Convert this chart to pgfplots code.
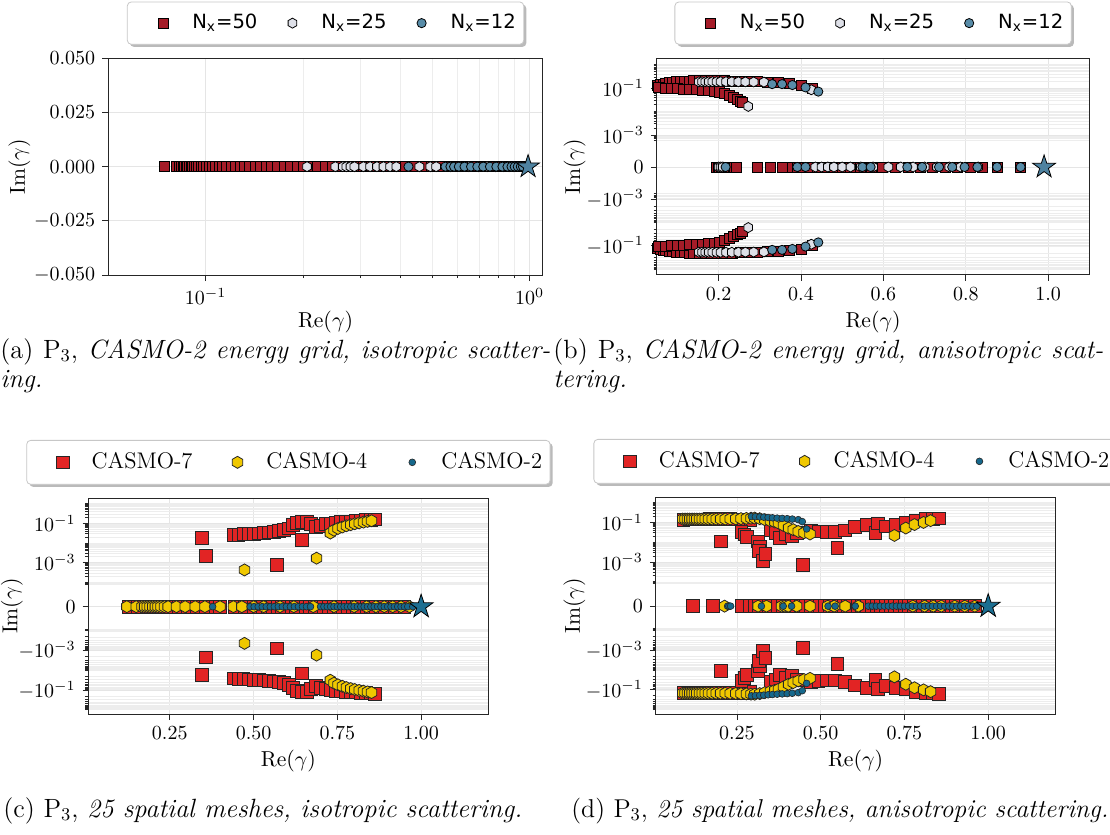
\documentclass[border=0pt]{standalone}
\usepackage{pgfplots}
\pgfplotsset{compat=1.18}
\usepackage{pgfplotstable}
\usepackage{fontspec}
\usetikzlibrary{shadows}
\newfontfamily\legsans{DejaVu Sans}

\definecolor{aRed}{RGB}{165,28,40}
\definecolor{aWhite}{RGB}{222,224,232}
\definecolor{aBlue}{RGB}{88,140,168}
\definecolor{aStar}{RGB}{78,130,160}
\definecolor{cRed}{RGB}{226,36,36}
\definecolor{cYel}{RGB}{240,200,0}
\definecolor{cBlue}{RGB}{22,104,140}
\definecolor{cStar}{RGB}{28,110,145}

\pgfdeclareplotmark{hexa}{%
 \pgfpathmoveto{\pgfpointpolar{90}{\pgfplotmarksize}}%
 \pgfpathlineto{\pgfpointpolar{150}{\pgfplotmarksize}}%
 \pgfpathlineto{\pgfpointpolar{210}{\pgfplotmarksize}}%
 \pgfpathlineto{\pgfpointpolar{270}{\pgfplotmarksize}}%
 \pgfpathlineto{\pgfpointpolar{330}{\pgfplotmarksize}}%
 \pgfpathlineto{\pgfpointpolar{30}{\pgfplotmarksize}}%
 \pgfpathclose\pgfusepathqfillstroke}
\pgfdeclareplotmark{fstar}{%
 \pgfpathmoveto{\pgfpointpolar{90}{\pgfplotmarksize}}%
 \pgfpathlineto{\pgfpointpolar{126}{0.382\pgfplotmarksize}}%
 \pgfpathlineto{\pgfpointpolar{162}{\pgfplotmarksize}}%
 \pgfpathlineto{\pgfpointpolar{198}{0.382\pgfplotmarksize}}%
 \pgfpathlineto{\pgfpointpolar{234}{\pgfplotmarksize}}%
 \pgfpathlineto{\pgfpointpolar{270}{0.382\pgfplotmarksize}}%
 \pgfpathlineto{\pgfpointpolar{306}{\pgfplotmarksize}}%
 \pgfpathlineto{\pgfpointpolar{342}{0.382\pgfplotmarksize}}%
 \pgfpathlineto{\pgfpointpolar{18}{\pgfplotmarksize}}%
 \pgfpathlineto{\pgfpointpolar{54}{0.382\pgfplotmarksize}}%
 \pgfpathclose\pgfusepathqfillstroke}

% symlog transform of the column y: #1 = offset D (decades from 0 to 1e-3), #2 = sign factor
\newcommand\SL[2]{((\thisrow{y}>0)-(\thisrow{y}<0))*#2*(#1+3+log10(abs(\thisrow{y})+1e-30))}

% minor tick positions of the symlog axes
\newcommand\buildminor[2]{%
  \gdef\tmplist{0}%
  \foreach \k in {-5,...,0}{%
    \foreach \m in {1,...,9}{%
      \pgfmathsetmacro\tt{#1+3+\k+log10(\m)}%
      \pgfmathtruncatemacro\ok{\tt>1.1}%
      \ifnum\ok=1 \xdef\tmplist{\tmplist,\tt,-\tt}\fi
    }}%
  \global\expandafter\let\csname #2\endcsname\tmplist}
\buildminor{1.36}{minorB}
\buildminor{2.23}{minorC}

% ---------------- data (a): all on the real axis ----------------
\pgfplotstableread{
x y
0.0746 0
0.0812 0
0.0828 0
0.0840 0
0.0851 0
0.0861 0
0.0871 0
0.0881 0
0.0891 0
0.0902 0
0.0913 0
0.0925 0
0.0938 0
0.0952 0
0.0968 0
0.0985 0
0.1004 0
0.1025 0
0.1048 0
0.1073 0
0.1100 0
0.1130 0
0.1162 0
0.1197 0
0.1235 0
0.1276 0
0.1320 0
0.1368 0
0.1420 0
0.1476 0
0.1536 0
0.1601 0
0.1671 0
0.1746 0
0.1827 0
0.1914 0
0.2008 0
0.2109 0
0.2218 0
0.2335 0
0.2461 0
0.2596 0
0.2742 0
0.2899 0
0.3068 0
0.3250 0
0.3446 0
0.3657 0
0.3884 0
0.4128 0
0.4391 0
0.4674 0
0.4978 0
0.5305 0
0.5657 0
0.6035 0
0.6441 0
0.6877 0
0.7345 0
0.7847 0
0.8385 0
0.8962 0
0.9400 0
}\aRedT
\pgfplotstableread{
x y
0.2056 0
0.2515 0
0.2650 0
0.2720 0
0.2800 0
0.2880 0
0.3070 0
0.3220 0
0.3380 0
0.3540 0
0.3710 0
0.3880 0
0.4570 0
0.4940 0
0.5150 0
0.5700 0
0.6100 0
0.6500 0
0.6950 0
0.7400 0
0.7850 0
0.8300 0
0.8650 0
0.8950 0
}\aWhiteT
\pgfplotstableread{
x y
0.4230 0
0.5500 0
0.5700 0
0.5850 0
0.6050 0
0.6300 0
0.6600 0
0.6900 0
0.7200 0
0.7550 0
0.7900 0
0.8250 0
0.8550 0
0.8800 0
0.9000 0
0.9200 0
0.9400 0
0.9550 0
}\aBlueT

% ---------------- data (b) ----------------
\pgfplotstableread{
x y
0.195 0
0.199 0
0.203 0
0.207 0
0.211 0
0.215 0
0.219 0
0.223 0
0.227 0
0.231 0
0.235 0
0.239 0
0.243 0
0.294 0
0.326 0
0.355 0
0.379 0
0.392 0
0.405 0
0.420 0
0.440 0
0.460 0
0.480 0
0.500 0
0.520 0
0.545 0
0.570 0
0.597 0
0.630 0
0.660 0
0.690 0
0.720 0
0.750 0
0.780 0
0.810 0
0.840 0
0.876 0
0.933 0
}\bRedR
\pgfplotstableread{
x y
0.052 0.125
0.058 0.138
0.065 0.150
0.072 0.160
0.080 0.170
0.088 0.178
0.097 0.185
0.107 0.191
0.117 0.196
0.128 0.200
0.140 0.203
0.153 0.205
0.167 0.206
0.182 0.206
0.198 0.205
0.215 0.203
0.233 0.200
0.252 0.197
0.272 0.193
0.294 0.188
0.318 0.180
0.345 0.170
0.372 0.158
0.400 0.135
0.428 0.095
0.055 0.105
0.070 0.101
0.085 0.098
0.100 0.095
0.115 0.092
0.130 0.089
0.145 0.086
0.160 0.083
0.175 0.079
0.190 0.075
0.203 0.069
0.215 0.060
0.226 0.050
0.236 0.040
0.245 0.033
0.252 0.028
0.258 0.024
}\bRedU
\pgfplotstableread{
x y
0.200 0
0.205 0
0.210 0
0.435 0
0.450 0
0.465 0
0.480 0
0.500 0
0.520 0
0.545 0
0.575 0
0.612 0
0.642 0
0.672 0
0.700 0
0.730 0
0.760 0
0.787 0
0.830 0
}\bWhiteR
\pgfplotstableread{
x y
0.152 0.185
0.160 0.186
0.168 0.187
0.176 0.187
0.185 0.188
0.195 0.188
0.205 0.188
0.218 0.188
0.232 0.187
0.248 0.186
0.265 0.185
0.285 0.183
0.310 0.180
0.425 0.085
0.272 0.0166
}\bWhiteU
\pgfplotstableread{
x y
0.217 0
0.391 0
0.411 0
0.549 0
0.569 0
0.658 0
0.694 0
0.735 0
0.767 0
0.797 0
0.828 0
0.876 0
0.933 0
}\bBlueR
\pgfplotstableread{
x y
0.330 0.148
0.354 0.148
0.379 0.135
0.411 0.107
0.442 0.071
}\bBlueU

% ---------------- data (c) ----------------
\pgfplotstableread{
x y
0.000 0
0.127 0
0.141 0
0.154 0
0.168 0
0.182 0
0.195 0
0.209 0
0.223 0
0.236 0
0.250 0
0.264 0
0.277 0
0.291 0
0.305 0
0.318 0
0.332 0
0.346 0
0.359 0
0.373 0
0.387 0
0.400 0
0.445 0
0.459 0
0.473 0
0.487 0
0.501 0
0.515 0
0.529 0
0.543 0
0.557 0
0.571 0
0.585 0
0.599 0
0.613 0
0.627 0
0.641 0
0.655 0
0.669 0
0.683 0
0.697 0
0.711 0
0.725 0
0.739 0
0.753 0
0.767 0
0.781 0
0.795 0
0.809 0
0.823 0
0.837 0
0.851 0
0.865 0
0.879 0
0.893 0
0.907 0
0.921 0
0.935 0
0.950 0
}\cRedR
\pgfplotstableread{
x y
0.346 0.0174
0.357 0.0022
0.569 0.00078
0.644 0.0145
0.441 0.026
0.455 0.027
0.470 0.028
0.485 0.029
0.500 0.030
0.515 0.031
0.530 0.033
0.545 0.035
0.560 0.037
0.575 0.040
0.590 0.045
0.605 0.055
0.618 0.080
0.630 0.110
0.645 0.120
0.660 0.120
0.672 0.090
0.687 0.063
0.700 0.075
0.715 0.090
0.730 0.100
0.745 0.110
0.760 0.115
0.775 0.120
0.790 0.125
0.805 0.130
0.820 0.140
0.835 0.145
0.850 0.150
0.862 0.160
}\cRedU
\pgfplotstableread{
x y
0.122 0
0.150 0
0.167 0
0.175 0
0.183 0
0.191 0
0.199 0
0.207 0
0.215 0
0.224 0
0.234 0
0.245 0
0.270 0
0.296 0
0.326 0
0.355 0
0.400 0
0.440 0
0.465 0
0.500 0
0.530 0
0.579 0
0.620 0
0.678 0
0.740 0
0.800 0
0.837 0
0.865 0
0.890 0
0.915 0
0.940 0
0.965 0
}\cYelR
\pgfplotstableread{
x y
0.473 0.00043
0.688 0.0017
0.729 0.032
0.740 0.045
0.752 0.055
0.765 0.065
0.777 0.075
0.790 0.085
0.802 0.095
0.815 0.105
0.828 0.115
0.840 0.125
0.852 0.135
}\cYelU
\pgfplotstableread{
x y
0.378 0
0.490 0
0.502 0
0.514 0
0.526 0
0.538 0
0.550 0
0.562 0
0.574 0
0.586 0
0.598 0
0.610 0
0.622 0
0.634 0
0.646 0
0.658 0
0.670 0
0.700 0
0.710 0
0.720 0
0.730 0
0.740 0
0.750 0
0.760 0
0.770 0
0.780 0
0.790 0
0.800 0
0.810 0
0.820 0
0.830 0
0.840 0
0.850 0
0.860 0
0.870 0
0.880 0
0.890 0
0.900 0
0.910 0
0.920 0
0.930 0
0.940 0
0.950 0
0.960 0
0.975 0
}\cBluR

% ---------------- data (d) ----------------
\pgfplotstableread{
x y
0.000 0
0.118 0
0.178 0
0.263 0
0.288 0
0.302 0
0.316 0
0.330 0
0.344 0
0.358 0
0.372 0
0.386 0
0.400 0
0.414 0
0.428 0
0.442 0
0.456 0
0.470 0
0.484 0
0.498 0
0.512 0
0.526 0
0.540 0
0.554 0
0.568 0
0.582 0
0.596 0
0.610 0
0.624 0
0.638 0
0.652 0
0.666 0
0.680 0
0.694 0
0.708 0
0.722 0
0.736 0
0.750 0
0.764 0
0.778 0
0.792 0
0.806 0
0.820 0
0.834 0
0.848 0
0.862 0
0.876 0
0.890 0
0.904 0
0.918 0
0.932 0
0.946 0
0.960 0
}\dRedR
\pgfplotstableread{
x y
0.090 0.140
0.110 0.142
0.130 0.143
0.150 0.144
0.170 0.145
0.190 0.145
0.210 0.145
0.230 0.145
0.250 0.144
0.270 0.140
0.290 0.130
0.203 0.011
0.263 0.034
0.272 0.025
0.280 0.018
0.313 0.011
0.318 0.0060
0.315 0.0035
0.328 0.0011
0.335 0.0025
0.350 0.040
0.365 0.030
0.378 0.017
0.395 0.025
0.413 0.020
0.430 0.030
0.448 0.00074
0.470 0.040
0.493 0.035
0.518 0.033
0.543 0.033
0.550 0.0051
0.573 0.040
0.603 0.059
0.638 0.078
0.663 0.030
0.670 0.090
0.693 0.063
0.723 0.078
0.753 0.093
0.783 0.126
0.813 0.148
0.835 0.150
0.854 0.160
}\dRedU
\pgfplotstableread{
x y
0.213 0
0.313 0
0.338 0
0.383 0
0.393 0
0.403 0
0.428 0
0.468 0
0.521 0
0.540 0
0.573 0
0.612 0
0.775 0
0.810 0
0.836 0
0.860 0
0.900 0
0.930 0
0.960 0
}\dYelR
\pgfplotstableread{
x y
0.088 0.148
0.095 0.148
0.102 0.148
0.109 0.148
0.116 0.148
0.123 0.148
0.130 0.148
0.138 0.148
0.146 0.148
0.155 0.148
0.165 0.148
0.176 0.148
0.188 0.148
0.201 0.148
0.215 0.148
0.230 0.150
0.246 0.152
0.262 0.156
0.278 0.160
0.292 0.164
0.303 0.166
0.318 0.155
0.333 0.138
0.350 0.118
0.363 0.105
0.374 0.093
0.389 0.070
0.404 0.052
0.418 0.043
0.433 0.035
0.450 0.030
0.468 0.026
0.720 0.022
0.754 0.052
0.780 0.078
0.807 0.100
0.828 0.123
}\dYelU
\pgfplotstableread{
x y
0.222 0
0.226 0
0.231 0
0.323 0
0.388 0
0.413 0
0.522 0
0.543 0
0.603 0
0.642 0
0.654 0
0.666 0
0.678 0
0.690 0
0.702 0
0.714 0
0.726 0
0.738 0
0.750 0
0.762 0
0.774 0
0.786 0
0.798 0
0.810 0
0.822 0
0.834 0
0.846 0
0.858 0
0.870 0
0.882 0
0.894 0
0.906 0
0.918 0
0.930 0
0.942 0
0.954 0
0.966 0
}\dBluR
\pgfplotstableread{
x y
0.293 0.200
0.305 0.195
0.318 0.190
0.330 0.185
0.343 0.178
0.356 0.172
0.370 0.165
0.385 0.160
0.400 0.155
0.415 0.148
0.433 0.138
0.445 0.110
0.458 0.047
}\dBluU

\pgfplotsset{
  base/.style={scale only axis, anchor=north west,
    axis line style={line width=0.5pt, black!85},
    tick align=outside, tick pos=left,
    tick style={black!85, line width=0.4pt},
    major tick length=3pt, minor tick length=1.6pt,
    tick label style={font=\fontsize{10.3}{12}\selectfont},
    label style={font=\fontsize{10.8}{13}\selectfont},
    xlabel={Re$(\gamma)$}, ylabel={Im$(\gamma)$},
    xlabel style={at={(axis description cs:0.5,0)}, anchor=center, yshift=-23.4pt},
    major grid style={black!10, line width=0.4pt},
    minor grid style={black!7, line width=0.3pt},
    legend columns=3, legend cell align=left,
    legend image code/.code={%
      \pgfpathrectangle{\pgfqpoint{-16pt}{-1pt}}{\pgfqpoint{28.5pt}{2pt}}\pgfusepath{}%
      \draw[##1] plot coordinates {(0pt,0pt)};},
    legend style={at={(0.5,1)}, anchor=south, yshift=6.8pt, draw=black!22,
      rounded corners=2pt, fill=white, inner ysep=4.2pt, inner xsep=2pt,
      drop shadow={shadow xshift=1.3pt, shadow yshift=-1.3pt, fill=black!45, opacity=0.6}},
  },
  symlogB/.style={ymin=-4.6, ymax=4.63,
    ytick={-3.36,-1.36,0,1.36,3.36},
    yticklabels={$-10^{-1}$,$-10^{-3}$,$0$,$10^{-3}$,$10^{-1}$},
    minor ytick/.expanded={\minorB}, xmajorgrids, ymajorgrids, yminorgrids},
  symlogC/.style={ymin=-5.45, ymax=5.5,
    ytick={-4.23,-2.23,0,2.23,4.23},
    yticklabels={$-10^{-1}$,$-10^{-3}$,$0$,$10^{-3}$,$10^{-1}$},
    minor ytick/.expanded={\minorC}, xmajorgrids, ymajorgrids, yminorgrids},
  mA/.style={only marks, mark=square*, mark size=2.5pt, mark options={fill=aRed, draw=black, line width=0.4pt, sharp corners}},
  mW/.style={only marks, mark=hexa, mark size=2.5pt, mark options={fill=aWhite, draw=black, line width=0.4pt, sharp corners}},
  mB/.style={only marks, mark=*, mark size=2.3pt, mark options={fill=aBlue, draw=black, line width=0.4pt}},
  mC7/.style={only marks, mark=square*, mark size=3.2pt, mark options={fill=cRed, draw=black!85, line width=0.4pt, sharp corners}},
  mC4/.style={only marks, mark=hexa, mark size=3.0pt, mark options={fill=cYel, draw=black!85, line width=0.4pt, sharp corners}},
  mC2/.style={only marks, mark=*, mark size=1.7pt, mark options={fill=cBlue, draw=black!85, line width=0.3pt}},
}

\begin{document}
\begin{tikzpicture}
\path[use as bounding box] (0pt,0pt) rectangle (555pt,-417.5pt);

% ---------------- (a) ----------------
\begin{axis}[base, at={(54.1pt,-29.15pt)}, width=217.35pt, height=108.35pt,
  xmode=log, xmin=0.05, xmax=1.1, ymin=-0.05, ymax=0.05,
  ytick={-0.05,-0.025,0,0.025,0.05}, scaled y ticks=false,
  yticklabel style={/pgf/number format/fixed, /pgf/number format/fixed zerofill, /pgf/number format/precision=3},
  xtick={0.1,1}, xticklabels={$10^{-1}$,$10^{0}$},
  grid=both,
  ylabel style={at={(axis description cs:-0.204,0.5)}, anchor=center},
  legend style={font=\legsans\fontsize{9.8}{11}\selectfont,
    /tikz/every even column/.append style={column sep=-0.5pt}}]
\addplot[mA] table[x=x,y=y]{\aRedT}; \addlegendentry{N\textsubscript{x}=50}
\addplot[mW] table[x=x,y=y]{\aWhiteT}; \addlegendentry{N\textsubscript{x}=25}
\addplot[mB] table[x=x,y=y]{\aBlueT}; \addlegendentry{N\textsubscript{x}=12}
\addplot[only marks, mark=fstar, mark size=6pt, mark options={fill=aStar, draw=black, line width=0.4pt}, forget plot] coordinates {(0.99,0)};
\end{axis}

% ---------------- (b) ----------------
\begin{axis}[base, symlogB, at={(328.4pt,-29.15pt)}, width=216.3pt, height=108.35pt,
  xmin=0.05, xmax=1.1,
  xtick={0.2,0.4,0.6,0.8,1.0}, xticklabels={$0.2$,$0.4$,$0.6$,$0.8$,$1.0$},
  ylabel style={at={(axis description cs:-0.19,0.5)}, anchor=center},
  legend style={font=\legsans\fontsize{9.8}{11}\selectfont,
    /tikz/every even column/.append style={column sep=-0.5pt}}]
\addplot[mA] table[x=x, y expr={\SL{1.36}{1}}]{\bRedR}; \addlegendentry{N\textsubscript{x}=50}
\addplot[mA, forget plot] table[x=x, y expr={\SL{1.36}{1}}]{\bRedU};
\addplot[mA, forget plot] table[x=x, y expr={\SL{1.36}{(-1)}}]{\bRedU};
\addplot[mW] table[x=x, y expr={\SL{1.36}{1}}]{\bWhiteR}; \addlegendentry{N\textsubscript{x}=25}
\addplot[mW, forget plot] table[x=x, y expr={\SL{1.36}{1}}]{\bWhiteU};
\addplot[mW, forget plot] table[x=x, y expr={\SL{1.36}{(-1)}}]{\bWhiteU};
\addplot[mB] table[x=x, y expr={\SL{1.36}{1}}]{\bBlueR}; \addlegendentry{N\textsubscript{x}=12}
\addplot[mB, forget plot] table[x=x, y expr={\SL{1.36}{1}}]{\bBlueU};
\addplot[mB, forget plot] table[x=x, y expr={\SL{1.36}{(-1)}}]{\bBlueU};
\addplot[only marks, mark=fstar, mark size=6pt, mark options={fill=aStar, draw=black, line width=0.4pt}, forget plot] coordinates {(0.99,0)};
\end{axis}

% ---------------- (c) ----------------
\begin{axis}[base, symlogC, at={(44.3pt,-249.15pt)}, width=199.8pt, height=107.85pt,
  xmin=0.008, xmax=1.2,
  xtick={0.25,0.5,0.75,1}, xticklabels={$0.25$,$0.50$,$0.75$,$1.00$},
  ylabel style={at={(axis description cs:-0.192,0.5)}, anchor=center},
  legend style={font=\fontsize{11.3}{13}\selectfont,
    /tikz/every even column/.append style={column sep=4.5pt}}]
\addplot[mC7] table[x=x, y expr={\SL{2.23}{1}}]{\cRedR}; \addlegendentry{CASMO-7}
\addplot[mC7, forget plot] table[x=x, y expr={\SL{2.23}{1}}]{\cRedU};
\addplot[mC7, forget plot] table[x=x, y expr={\SL{2.23}{(-1)}}]{\cRedU};
\addplot[mC4] table[x=x, y expr={\SL{2.23}{1}}]{\cYelR}; \addlegendentry{CASMO-4}
\addplot[mC4, forget plot] table[x=x, y expr={\SL{2.23}{1}}]{\cYelU};
\addplot[mC4, forget plot] table[x=x, y expr={\SL{2.23}{(-1)}}]{\cYelU};
\addplot[mC2] table[x=x, y expr={\SL{2.23}{1}}]{\cBluR}; \addlegendentry{CASMO-2}
\addplot[only marks, mark=fstar, mark size=6.2pt, mark options={fill=cStar, draw=black, line width=0.4pt}, forget plot] coordinates {(1.0,0)};
\end{axis}

% ---------------- (d) ----------------
\begin{axis}[base, symlogC, at={(327.95pt,-248.65pt)}, width=199.65pt, height=108.35pt,
  xmin=0.008, xmax=1.2,
  xtick={0.25,0.5,0.75,1}, xticklabels={$0.25$,$0.50$,$0.75$,$1.00$},
  ylabel style={at={(axis description cs:-0.204,0.5)}, anchor=center},
  legend style={font=\fontsize{11.3}{13}\selectfont,
    /tikz/every even column/.append style={column sep=4.5pt}}]
\addplot[mC7] table[x=x, y expr={\SL{2.23}{1}}]{\dRedR}; \addlegendentry{CASMO-7}
\addplot[mC7, forget plot] table[x=x, y expr={\SL{2.23}{1}}]{\dRedU};
\addplot[mC7, forget plot] table[x=x, y expr={\SL{2.23}{(-1)}}]{\dRedU};
\addplot[mC4] table[x=x, y expr={\SL{2.23}{1}}]{\dYelR}; \addlegendentry{CASMO-4}
\addplot[mC4, forget plot] table[x=x, y expr={\SL{2.23}{1}}]{\dYelU};
\addplot[mC4, forget plot] table[x=x, y expr={\SL{2.23}{(-1)}}]{\dYelU};
\addplot[mC2] table[x=x, y expr={\SL{2.23}{1}}]{\dBluR}; \addlegendentry{CASMO-2}
\addplot[mC2, forget plot] table[x=x, y expr={\SL{2.23}{1}}]{\dBluU};
\addplot[mC2, forget plot] table[x=x, y expr={\SL{2.23}{(-1)}}]{\dBluU};
\addplot[only marks, mark=fstar, mark size=6.2pt, mark options={fill=cStar, draw=black, line width=0.4pt}, forget plot] coordinates {(1.0,0)};
\end{axis}

% ---------------- captions ----------------
\begin{scope}[every node/.style={inner sep=0pt, anchor=base west, font=\fontsize{13.2}{15}\selectfont}]
\node at (0pt,-179pt) {\makebox[275pt][s]{(a) P$_3$, \textit{CASMO-2 energy grid, isotropic scatter-}}};
\node at (0pt,-193.5pt) {\textit{ing.}};
\node at (276.5pt,-179pt) {\makebox[275pt][s]{(b) P$_3$, \textit{CASMO-2 energy grid, anisotropic scat-}}};
\node at (276.5pt,-193.5pt) {\textit{tering.}};
\node at (1.5pt,-408.5pt) {(c) P$_3$, \textit{25 spatial meshes, isotropic scattering.}};
\node[font=\fontsize{12.9}{15}\selectfont] at (285.5pt,-408.5pt) {(d) P$_3$, \textit{25 spatial meshes, anisotropic scattering.}};
\end{scope}
\end{tikzpicture}
\end{document}
